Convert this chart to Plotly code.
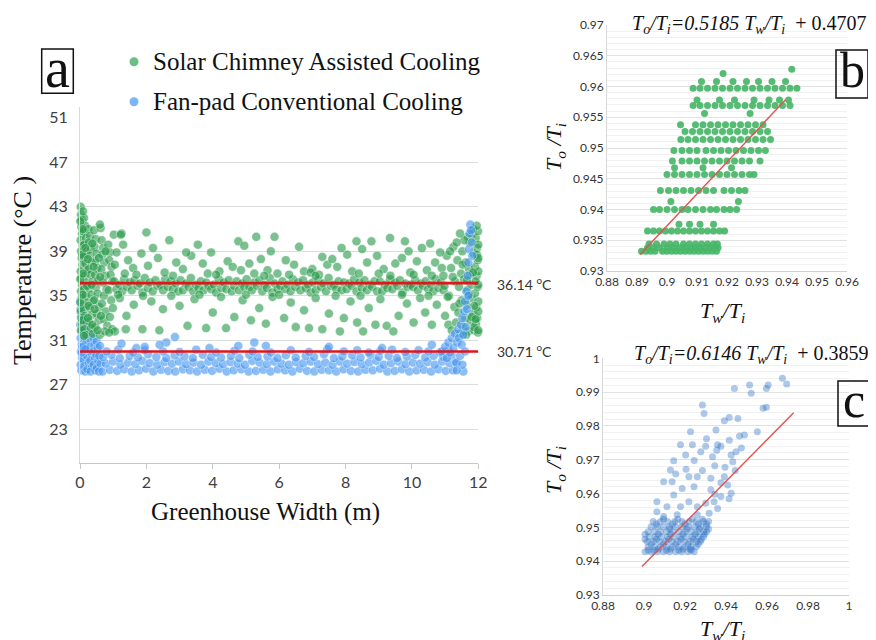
import plotly.graph_objects as go

# page body has an 8px default margin, so the figure is drawn 8px smaller and offset
OFF = 8
W, H = 876 - OFF, 640 - OFF
SERIF = "Liberation Serif, Times New Roman, serif"
SANS = "Lato, Noto Sans, sans-serif"

# ---------------- Panel a : temperature vs greenhouse width ----------------
SOLAR_LEFT = [
    (0.02,43.0),(0.03,42.3),(0.05,41.8),(0.04,41.2),(0.06,40.6),(0.02,40.0),(0.08,39.5),(0.03,39.0),(0.05,38.4),(0.07,37.8),
    (0.02,37.2),(0.04,36.6),(0.06,36.0),(0.03,35.4),(0.05,34.8),(0.08,34.2),(0.02,33.6),(0.04,33.0),(0.06,32.4),(0.03,31.9),
    (0.12,42.0),(0.15,41.3),(0.10,40.8),(0.18,40.2),(0.13,39.6),(0.20,39.0),(0.11,38.5),(0.16,37.9),(0.22,37.3),(0.14,36.8),
    (0.19,36.2),(0.12,35.6),(0.17,35.0),(0.23,34.4),(0.10,33.8),(0.15,33.2),(0.20,32.6),(0.13,32.0),(0.18,31.5),
    (0.25,41.0),(0.30,40.4),(0.27,39.8),(0.33,39.2),(0.29,38.6),(0.35,38.0),(0.26,37.4),(0.32,36.9),(0.38,36.3),(0.28,35.7),
    (0.34,35.1),(0.40,34.5),(0.30,33.9),(0.36,33.3),(0.27,32.7),(0.33,32.1),(0.39,31.6),
    (0.42,40.9),(0.47,40.1),(0.44,39.4),(0.50,38.8),(0.46,38.1),(0.52,37.5),(0.45,36.9),(0.55,36.4),(0.48,35.8),(0.53,35.2),
    (0.43,34.6),(0.58,34.0),(0.50,33.4),(0.56,32.8),(0.46,32.2),(0.60,31.5),
    (0.62,41.1),(0.65,40.0),(0.70,39.3),(0.67,38.7),(0.73,38.0),(0.64,37.4),(0.76,36.8),(0.69,36.2),(0.80,35.6),(0.72,35.0),
    (0.66,34.3),(0.78,33.6),(0.71,32.9),(0.82,32.3),(0.75,31.8),
    (0.85,39.6),(0.90,38.9),(0.88,38.2),(0.95,37.6),(0.92,36.9),(0.98,36.3),(0.86,35.5),(0.94,34.6),(0.99,33.9),(0.90,33.1),
    (0.97,32.0),(1.02,40.5),(1.25,40.6),(1.05,37.8),(0.60,41.4),(0.09,42.6),(0.07,38.7),(0.01,41.7),(0.01,36.5),(0.01,34.4),
    (0.08,41.0),(0.16,39.3),(0.24,38.3),(0.09,37.0),(0.21,35.9),(0.08,35.1),(0.26,34.1),(0.07,32.8),(0.24,33.0),(0.12,31.4),
    (0.37,39.7),(0.41,37.6),(0.35,36.0),(0.44,33.8),(0.37,32.4),(0.57,38.4),(0.61,36.7),(0.63,33.2),(0.53,31.9),(0.77,39.0),
]
SOLAR_BAND_X = [
    1.03,1.1,1.18,1.27,1.33,1.41,1.5,1.56,1.64,1.73,1.8,1.88,1.95,2.04,2.1,2.19,2.27,2.33,2.42,2.5,
    2.57,2.64,2.73,2.8,2.88,2.96,3.03,3.1,3.18,3.27,3.34,3.41,3.49,3.57,3.64,3.72,3.8,3.87,3.95,4.03,
    4.1,4.18,4.26,4.33,4.41,4.48,4.57,4.64,4.72,4.79,4.87,4.95,5.02,5.1,5.18,5.25,5.33,5.4,5.49,5.56,
    5.63,5.72,5.8,5.87,5.95,6.03,6.1,6.18,6.25,6.34,6.41,6.48,6.57,6.64,6.72,6.8,6.87,6.95,7.02,7.1,
    7.18,7.26,7.33,7.41,7.49,7.56,7.64,7.72,7.79,7.88,7.95,8.03,8.1,8.18,8.26,8.33,8.41,8.49,8.57,8.64,
    8.72,8.8,8.87,8.95,9.03,9.1,9.18,9.26,9.34,9.41,9.49,9.56,9.64,9.72,9.8,9.87,9.95,10.03,10.1,10.18,
    10.26,10.33,10.41,10.49,10.57,10.64,10.72,10.8,10.87,10.95,
]
SOLAR_BAND_Y = [
    36.3,35.6,36.0,35.4,36.5,35.8,36.2,35.5,36.4,35.9,36.1,35.3,36.6,
    35.7,36.2,35.4,36.4,35.9,36.0,35.5,36.5,35.8,36.3,35.6,36.1,35.4,
    36.4,35.5,36.1,35.8,36.6,35.4,36.0,35.7,36.3,35.5,36.2,35.9,35.6,
    36.0,35.3,36.5,35.7,36.2,35.6,36.4,35.4,35.9,36.3,35.5,36.1,35.8,
    36.5,35.8,35.5,36.2,35.9,36.4,35.4,36.0,35.7,36.6,35.3,36.1,35.6,
    35.9,36.3,35.6,36.0,35.4,36.5,35.8,36.2,35.5,36.4,35.7,36.0,35.3,
    36.2,35.5,36.4,35.8,36.1,35.4,36.6,35.9,36.0,35.6,36.3,35.5,36.2,
    35.6,36.1,35.9,36.5,35.4,36.2,35.7,36.4,35.5,36.0,35.8,36.3,35.4,
    36.3,35.4,36.0,35.7,36.5,35.6,36.2,35.9,36.4,35.3,36.1,35.8,36.0,
    35.8,36.4,35.5,36.1,35.9,36.3,35.6,36.0,35.4,36.5,35.7,36.2,35.5,
]
SOLAR_MID = [
    (1.23,40.5),(2.0,40.7),(2.69,40.0),(4.77,39.9),(5.31,40.3),(5.86,40.3),(9.34,40.2),(9.79,39.9),(10.55,39.7),(7.88,39.3),
    (8.33,39.9),(8.78,39.9),(1.1,38.9),(1.45,38.2),(1.6,37.5),(1.85,38.8),(2.2,39.3),(2.35,38.4),(2.55,37.1),(2.9,38.0),
    (3.1,37.4),(3.35,38.6),(3.55,39.6),(3.7,37.9),(3.95,38.9),(4.2,37.2),(4.45,38.1),(4.6,37.6),(4.95,39.5),(5.1,37.9),
    (5.45,38.3),(5.65,37.3),(5.95,37.0),(6.2,38.2),(6.45,37.8),(6.6,39.4),(6.75,37.2),(7.0,37.4),(7.2,36.9),(7.45,37.8),
    (7.6,38.3),(7.75,37.6),(8.05,38.7),(8.2,37.2),(8.5,39.2),(8.65,38.0),(8.95,38.6),(9.15,37.4),(9.5,37.9),(9.7,38.4),
    (9.95,37.1),(10.15,38.1),(10.3,39.3),(10.45,37.3),(10.7,38.0),(10.9,37.5),(3.85,37.0),(6.95,37.1),(5.25,37.0),(2.05,37.7),
    (1.35,37.0),(9.0,37.0),(1.7,36.9),(2.8,36.8),(4.1,36.9),(4.85,37.3),(5.55,36.8),(6.3,36.9),(7.1,36.8),(8.4,37.0),
    (9.35,36.8),(10.05,36.9),(10.6,36.8),(3.2,38.9),(5.75,39.0),(7.3,38.5),(9.9,39.0),(1.3,39.6),
    (1.2,34.8),(1.4,33.2),(1.62,34.2),(1.88,32.0),(2.39,31.9),(2.15,34.5),(2.5,33.8),(2.75,35.0),(3.0,34.1),(3.24,32.3),
    (3.45,34.7),(3.8,32.1),(4.0,33.5),(4.4,32.1),(4.25,34.9),(4.65,33.1),(4.9,34.6),(5.15,32.8),(5.4,33.9),(5.6,32.5),
    (5.8,34.9),(6.15,33.0),(6.35,34.4),(6.5,32.2),(6.75,33.7),(6.9,32.1),(7.1,34.8),(7.3,32.0),(7.5,33.4),(7.83,31.8),
    (7.95,33.0),(8.15,34.5),(8.35,32.6),(8.53,31.8),(8.7,33.9),(8.9,32.4),(9.05,34.7),(9.24,32.3),(9.44,31.8),(9.6,33.2),
    (9.85,34.3),(10.05,32.6),(10.25,34.8),(10.4,33.5),(10.6,32.4),(10.75,34.2),(1.05,31.8),(1.38,32.0),(0.88,31.7),(6.0,35.1),
    (3.6,35.1),(8.45,35.0),(1.15,35.1),(1.9,35.0),(5.0,35.1),(7.7,35.0),(9.7,35.1),(10.5,35.0),
]
SOLAR_RIGHT = [
    (10.95,36.8),(11.0,33.2),(11.05,38.6),(11.1,32.4),(11.12,35.0),(11.18,37.5),(11.2,31.9),(11.25,39.4),(11.28,34.0),(11.3,36.3),
    (11.33,32.6),(11.37,38.2),(11.4,33.5),(11.42,35.8),(11.45,31.6),(11.48,37.0),(11.5,34.6),(11.52,39.0),(11.55,32.2),(11.57,36.5),
    (11.6,33.0),(11.62,38.0),(11.65,34.2),(11.67,35.5),(11.7,31.8),(11.72,37.4),(11.74,39.8),(11.76,32.8),(11.78,36.0),(11.8,34.8),
    (11.82,40.6),(11.84,33.4),(11.86,38.8),(11.88,31.9),(11.9,35.2),(11.9,37.6),(11.92,40.2),(11.93,32.5),(11.94,34.0),(11.95,36.8),
    (11.96,39.3),(11.97,33.0),(11.98,35.8),(11.98,38.2),(11.99,40.8),(11.99,31.7),(12.0,34.5),(12.0,37.2),(12.0,39.6),(12.0,36.0),
    (12.0,33.6),(11.85,41.0),(11.68,40.3),(11.58,40.0),(11.35,39.8),(11.15,39.0),(10.85,38.9),(11.45,40.6),(11.75,36.9),(11.63,31.5),
    (11.87,32.2),(11.95,41.3),(11.53,37.8),(11.43,34.3),(11.23,36.7),(11.08,34.9),(10.98,35.9),
    (11.88,34.1),(11.92,36.3),(11.84,37.1),(11.96,38.7),(11.8,33.1),(11.72,35.1),(11.66,36.4),(11.92,32.9),(12.0,38.4),(12.0,31.9),
]
FAN_LEFT = [
    (0.01,34.5),(0.02,33.8),(0.03,33.1),(0.01,32.4),(0.04,31.8),(0.02,31.2),(0.05,30.6),(0.03,30.0),(0.06,29.4),(0.02,28.8),
    (0.04,28.3),(0.1,33.0),(0.12,32.3),(0.09,31.7),(0.14,31.1),(0.11,30.5),(0.15,29.9),(0.1,29.3),(0.13,28.7),(0.16,28.2),
    (0.2,32.0),(0.23,31.4),(0.19,30.8),(0.25,30.2),(0.21,29.6),(0.26,29.0),(0.22,28.4),(0.3,31.6),(0.33,31.0),(0.29,30.4),
    (0.35,29.8),(0.31,29.2),(0.36,28.6),(0.32,28.2),(0.4,31.2),(0.43,30.6),(0.39,30.0),(0.45,29.4),(0.41,28.8),(0.46,28.3),
    (0.5,30.9),(0.53,30.3),(0.49,29.7),(0.55,29.1),(0.51,28.5),(0.6,30.5),(0.58,29.6),(0.62,28.9),(0.57,28.2),(0.05,29.9),
    (0.07,30.4),(0.16,30.2),
]
FAN_ROW1_X = [0.68,0.9,1.12,1.33,1.56,1.78,1.99,2.21,2.44,2.66,2.87,3.1,3.31,3.53,3.76,3.98,4.2,4.42,4.63,4.86,5.08,5.3,5.52,5.74,
              5.96,6.18,6.4,6.62,6.84,7.06,7.28,7.5,7.72,7.94,8.16,8.38,8.6,8.82,9.04,9.26,9.48,9.7,9.92,10.14,10.36,10.58,10.8,11.02,11.24]
FAN_ROW1_Y = [28.2,28.35,28.25,28.4,28.2,28.3,28.45,28.2,28.35,28.25,28.2,28.4,28.3,28.2,28.35,28.25,28.45,28.2,28.3,28.4,28.2,28.25,
              28.35,28.2,28.4,28.3,28.2,28.45,28.25,28.2,28.35,28.3,28.2,28.4,28.25,28.2,28.35,28.3,28.45,28.2,28.25,28.4,28.2,28.3,28.35,
              28.2,28.4,28.25,28.3]
FAN_ROW2_X = [0.78,1.0,1.22,1.45,1.67,1.88,2.1,2.33,2.55,2.77,2.98,3.2,3.42,3.65,3.87,4.09,4.31,4.53,4.75,4.97,5.19,5.41,5.63,5.85,
              6.07,6.29,6.51,6.73,6.95,7.17,7.39,7.61,7.83,8.05,8.27,8.49,8.71,8.93,9.15,9.37,9.59,9.81,10.03,10.25,10.47,10.69,10.91,11.13,11.35]
FAN_ROW2_Y = [28.9,29.1,28.8,29.0,28.85,29.15,28.95,28.8,29.05,28.9,29.1,28.85,29.0,28.8,29.1,28.95,28.85,29.05,28.9,28.8,29.15,29.0,
              28.85,29.1,28.9,28.8,29.05,28.95,29.1,28.85,29.0,28.8,29.1,28.9,29.05,28.85,29.0,29.15,28.8,28.95,29.1,28.85,29.0,28.9,29.05,
              28.8,29.1,28.95,29.0]
FAN_ROW3_X = [0.7,0.95,1.2,1.5,1.75,2.05,2.3,2.6,2.85,3.15,3.4,3.7,3.95,4.25,4.55,4.8,5.1,5.35,5.65,5.95,6.2,6.5,6.8,7.05,7.35,7.65,
              7.9,8.2,8.45,8.75,9.0,9.3,9.55,9.85,10.1,10.4,10.65,10.95,11.2]
FAN_ROW3_Y = [29.5,29.7,29.4,29.6,29.45,29.75,29.5,29.4,29.65,29.55,29.4,29.7,29.5,29.45,29.6,29.4,29.7,29.5,29.55,29.4,29.65,29.45,
              29.6,29.5,29.75,29.4,29.55,29.65,29.45,29.7,29.5,29.6,29.4,29.55,29.7,29.45,29.6,29.5,29.65]
FAN_ROW4_X = [0.8,1.15,1.6,1.95,2.5,3.0,3.5,4.1,4.65,5.2,5.75,6.35,6.9,7.45,7.95,8.35,8.7,9.05,9.4,9.8,10.2,10.5,10.85,11.1]
FAN_ROW4_Y = [30.0,30.15,29.9,30.1,30.0,29.95,30.15,29.9,30.05,30.0,29.9,30.1,29.95,30.2,30.0,30.1,29.9,30.05,30.15,29.95,30.1,30.0,29.9,30.15]
FAN_OUTLIERS = [(1.25,30.7),(2.86,31.3),(2.6,30.8),(2.4,30.6),(4.77,30.5),(5.25,30.8),(5.6,30.5),(10.6,30.6),(1.7,30.3),(3.9,30.3),
                (7.5,30.4),(9.1,30.3),(1.95,30.4)]
FAN_RIGHT = [
    (10.9,30.0),(11.0,30.4),(11.05,29.4),(11.1,30.8),(11.15,29.9),(11.2,31.2),(11.25,30.3),(11.3,31.6),(11.33,29.0),(11.36,30.8),
    (11.4,32.0),(11.42,31.2),(11.45,29.6),(11.48,32.4),(11.5,30.6),(11.52,33.0),(11.55,31.5),(11.55,28.2),(11.58,33.6),(11.6,34.5),
    (11.62,32.2),(11.64,35.4),(11.66,33.8),(11.68,36.8),(11.7,38.0),(11.72,39.2),(11.74,40.6),(11.76,41.4),(11.78,40.9),(11.8,39.8),
    (11.82,38.6),(11.7,35.0),(11.52,28.8),(11.35,28.3),(11.6,30.0),
]
MEAN_LINE_Y = [36.14, 30.0]
MEAN_LINE_LABELS = ["36.14", "30.71"]

# ---------------- Panel b : solar chimney ratios (rows of points) ----------------
B_ROW_Y = [0.9332, 0.9338, 0.9344, 0.9365, 0.9376, 0.9400, 0.9413, 0.9431, 0.9457, 0.9468, 0.9479,
           0.9496, 0.9514, 0.9527, 0.9538, 0.9556, 0.9569, 0.9578, 0.9597, 0.9608]
B_ROW_X = [
    [0.8915,0.893,0.8945,0.896,0.8985,0.9,0.9015,0.903,0.9045,0.906,0.9075,0.909,0.9105,0.912,0.9135,0.915,0.9165],
    [0.8935,0.8955,0.8975,0.9,0.902,0.904,0.906,0.908,0.9095,0.911,0.913,0.9145,0.916,0.917],
    [0.894,0.8965,0.899,0.901,0.903,0.9055,0.9075,0.9095,0.9115,0.9135,0.9155,0.9168],
    [0.8935,0.8955,0.8975,0.8995,0.9015,0.9035,0.9055,0.9075,0.9095,0.9115,0.9135,0.9155,0.9175,0.9192],
    [0.904,0.9075,0.911,0.9155],
    [0.8955,0.8975,0.9,0.9025,0.905,0.907,0.9095,0.912,0.9145,0.9165,0.919,0.921,0.9232],
    [0.9013,0.9238],
    [0.8978,0.9005,0.903,0.9055,0.908,0.9105,0.913,0.9155,0.919,0.9215,0.924,0.926],
    [0.9,0.9025,0.905,0.9075,0.91,0.9125,0.915,0.9175,0.92,0.9225,0.925,0.9275,0.929],
    [0.9025,0.912,0.9215],
    [0.9018,0.905,0.9075,0.91,0.9125,0.915,0.9175,0.92,0.9225,0.925,0.9275,0.931],
    [0.9023,0.905,0.9075,0.91,0.913,0.9155,0.918,0.9205,0.923,0.9255,0.928,0.9305,0.9328],
    [0.9046,0.907,0.9095,0.912,0.9145,0.917,0.9195,0.922,0.9245,0.927,0.9295,0.932,0.9345],
    [0.906,0.9085,0.911,0.9135,0.916,0.9185,0.921,0.9235,0.926,0.9285,0.931,0.9335],
    [0.9045,0.9095,0.912,0.9145,0.917,0.9195,0.922,0.9245,0.927,0.9295,0.932],
    [0.9125,0.9277],
    [0.9087,0.911,0.9135,0.916,0.9185,0.921,0.9235,0.926,0.9285,0.931,0.9335,0.936,0.9385,0.941],
    [0.91,0.9175,0.9225,0.929,0.934,0.9375,0.9405],
    [0.9087,0.911,0.9135,0.916,0.9185,0.921,0.9235,0.926,0.9285,0.931,0.9335,0.936,0.9385,0.941,0.9433],
    [0.9115,0.9165,0.922,0.9265,0.9305,0.935,0.9395],
]
B_OUTLIERS = [(0.9187, 0.9621), (0.9416, 0.9628)]
B_FIT = (0.5185, 0.4707)
B_FIT_X = [0.891, 0.9395]

# ---------------- Panel c : fan-pad ratios ----------------
C_ROW_Y = [0.9428, 0.9432, 0.9436, 0.9443, 0.9451, 0.9458, 0.9465, 0.9472, 0.9480, 0.9487, 0.9495, 0.9502, 0.9510, 0.9517, 0.9524]
C_ROW_X = [
    [0.9005,0.9035,0.9065,0.9095,0.9125,0.9155,0.9185,0.9215,0.9245],
    [0.902,0.905,0.911,0.917,0.923],
    [0.907,0.913,0.919,0.9225],
    [0.902,0.905,0.908,0.911,0.914,0.917,0.92,0.923,0.9255],
    [0.9035,0.9095,0.9155,0.9215,0.9265],
    [0.9015,0.9045,0.9075,0.9105,0.9135,0.9165,0.9195,0.9225,0.9255,0.9275],
    [0.9005,0.906,0.912,0.918,0.924,0.928],
    [0.9025,0.9055,0.9085,0.9115,0.9145,0.9175,0.9205,0.9235,0.9265,0.929],
    [0.9005,0.907,0.913,0.919,0.925,0.9295],
    [0.902,0.905,0.908,0.911,0.914,0.917,0.92,0.923,0.926,0.929,0.9305],
    [0.9125,0.921,0.927,0.9315],
    [0.9035,0.9065,0.9095,0.9125,0.9155,0.9185,0.9215,0.9245,0.9275,0.9305],
    [0.906,0.914,0.92,0.9265,0.9305],
    [0.9045,0.908,0.9115,0.915,0.9185,0.922,0.9255,0.929,0.9315],
    [0.9095,0.9165,0.9235,0.9285],
]
C_SCATTER = [
    (0.9285,0.9862),(0.9293,0.9837),(0.9441,0.9911),(0.9515,0.9921),(0.9523,0.9897),(0.9597,0.9911),(0.9606,0.9921),(0.9675,0.9941),
    (0.9696,0.9924),(0.9581,0.9852),(0.9597,0.9855),(0.9553,0.9783),(0.949,0.9773),(0.9466,0.977),(0.9458,0.9822),(0.9416,0.9825),
    (0.9392,0.9815),(0.9227,0.9783),(0.9351,0.9788),(0.9178,0.9744),(0.9236,0.9744),(0.9301,0.974),(0.9359,0.9744),(0.9375,0.974),
    (0.9416,0.9758),(0.9449,0.9724),(0.9145,0.9697),(0.9203,0.9714),(0.9277,0.9724),(0.9334,0.9709),(0.9425,0.9714),(0.9433,0.9694),
    (0.9129,0.967),(0.9096,0.9635),(0.9137,0.9635),(0.9219,0.965),(0.926,0.965),(0.9326,0.9645),(0.9392,0.965),(0.9408,0.9625),
    (0.9375,0.9591),(0.9425,0.9601),(0.9326,0.9611),(0.9244,0.962),(0.9186,0.9615),(0.9145,0.9596),(0.9063,0.9576),(0.9063,0.9546),
    (0.9112,0.9561),(0.9178,0.9561),(0.9219,0.9576),(0.926,0.9561),(0.9301,0.9571),(0.9342,0.9576),(0.9359,0.9556),(0.9318,0.9542),
    (0.926,0.9537),(0.9162,0.9537),(0.9096,0.9532),(0.9285,0.9668),(0.9345,0.9682),(0.9395,0.9678),(0.9445,0.9668),(0.9205,0.9672),
    (0.9155,0.9658),(0.9245,0.9698),(0.9305,0.9762),(0.9355,0.9728),(0.9475,0.9735),(0.9375,0.9632),(0.9415,0.9585),(0.9345,0.9598),
]
C_FIT = (0.6146, 0.3859)
C_FIT_X = [0.899, 0.973]


def xs(pairs):
    return [p[0] for p in pairs]


def ys(pairs):
    return [p[1] for p in pairs]


GREEN = "rgba(40,155,75,0.62)"
BLUE = "rgba(70,150,240,0.62)"
HALO = dict(color="rgba(255,255,255,0.5)", width=0.8)
MS_A = 9

fig = go.Figure()

# fan-pad (blue) first, solar (green) on top
fan_x = xs(FAN_LEFT) + FAN_ROW1_X + FAN_ROW2_X + FAN_ROW3_X + FAN_ROW4_X + xs(FAN_OUTLIERS)
fan_y = ys(FAN_LEFT) + FAN_ROW1_Y[:len(FAN_ROW1_X)] + FAN_ROW2_Y[:len(FAN_ROW2_X)] + FAN_ROW3_Y[:len(FAN_ROW3_X)] \
    + FAN_ROW4_Y[:len(FAN_ROW4_X)] + ys(FAN_OUTLIERS)
fig.add_trace(go.Scatter(x=fan_x, y=fan_y, mode="markers", name="Fan-pad Conventional Cooling",
                         marker=dict(size=MS_A, color=BLUE, line=HALO), cliponaxis=False, xaxis="x", yaxis="y"))

band_n = min(len(SOLAR_BAND_X), len(SOLAR_BAND_Y))
sol_x = xs(SOLAR_LEFT) + SOLAR_BAND_X[:band_n] + xs(SOLAR_MID) + xs(SOLAR_RIGHT)
sol_y = ys(SOLAR_LEFT) + SOLAR_BAND_Y[:band_n] + ys(SOLAR_MID) + ys(SOLAR_RIGHT)
fig.add_trace(go.Scatter(x=sol_x, y=sol_y, mode="markers", name="Solar Chimney Assisted Cooling",
                         marker=dict(size=MS_A, color=GREEN, line=HALO), cliponaxis=False, xaxis="x", yaxis="y"))

fig.add_trace(go.Scatter(x=xs(FAN_RIGHT), y=ys(FAN_RIGHT), mode="markers", showlegend=False,
                         marker=dict(size=MS_A, color=BLUE, line=HALO), cliponaxis=False, xaxis="x", yaxis="y"))

for v in MEAN_LINE_Y:
    fig.add_trace(go.Scatter(x=[0, 12], y=[v, v], mode="lines", line=dict(color="#e3151c", width=2.6),
                             showlegend=False, xaxis="x", yaxis="y"))

# panel b
bx, by = [], []
for yv, row in zip(B_ROW_Y, B_ROW_X):
    bx += row
    by += [yv] * len(row)
bx += xs(B_OUTLIERS)
by += ys(B_OUTLIERS)
fig.add_trace(go.Scatter(x=bx, y=by, mode="markers", showlegend=False,
                         marker=dict(size=7, color="rgba(72,182,104,0.92)"), xaxis="x2", yaxis="y2"))
fig.add_trace(go.Scatter(x=B_FIT_X, y=[B_FIT[0] * v + B_FIT[1] for v in B_FIT_X], mode="lines",
                         line=dict(color="#e0534d", width=1.4), showlegend=False, xaxis="x2", yaxis="y2"))

# panel c
cx, cy = [], []
for yv, row in zip(C_ROW_Y, C_ROW_X):
    cx += row
    cy += [yv] * len(row)
cx += xs(C_SCATTER)
cy += ys(C_SCATTER)
fig.add_trace(go.Scatter(x=cx, y=cy, mode="markers", showlegend=False,
                         marker=dict(size=7, color="rgba(40,110,195,0.38)"), xaxis="x3", yaxis="y3"))
fig.add_trace(go.Scatter(x=C_FIT_X, y=[C_FIT[0] * v + C_FIT[1] for v in C_FIT_X], mode="lines",
                         line=dict(color="#e0534d", width=1.4), showlegend=False, xaxis="x3", yaxis="y3"))


def px_x(p):
    return (p - OFF) / W


def px_y(p):
    return 1 - (p - OFF) / H


tickfont_a = dict(family=SANS, size=16, color="#404040")
tickfont_bc = dict(family=SANS, size=12, color="#333333")

fig.update_layout(
    width=W, height=H, margin=dict(l=0, r=0, t=0, b=0, autoexpand=False),
    paper_bgcolor="white", plot_bgcolor="white", showlegend=False,
    xaxis=dict(domain=[px_x(80), px_x(478.3)], range=[0, 12], tick0=0, dtick=2, showgrid=False, zeroline=False,
               showline=True, linecolor="#c8c8c8", ticks="outside", ticklen=5, tickcolor="#c8c8c8",
               tickfont=tickfont_a, anchor="y", automargin=False),
    yaxis=dict(domain=[px_y(462.7), px_y(106.7)], range=[20, 52], tickvals=[23, 27, 31, 35, 39, 43, 47, 51],
               showgrid=False, zeroline=False, showline=True, linecolor="#d9d9d9", ticks="",
               minor=dict(tickvals=[23, 27, 31, 35, 39, 43, 47], showgrid=True, gridcolor="#dcdcdc", ticks=""),
               tickfont=tickfont_a, ticklabelstandoff=8, anchor="x", automargin=False),
    xaxis2=dict(domain=[px_x(607), px_x(847)], range=[0.88, 0.96], dtick=0.01, tick0=0.88, showgrid=False,
                zeroline=False, showline=True, linecolor="#d0d0d0", ticks="", tickfont=tickfont_bc, anchor="y2",
                automargin=False),
    yaxis2=dict(domain=[px_y(271), px_y(25)], range=[0.93, 0.97], dtick=0.005, tick0=0.93, showgrid=True,
                gridcolor="#e2e2e2", zeroline=False, showline=True, linecolor="#d9d9d9", ticks="",
                minor=dict(dtick=0.001, showgrid=True, gridcolor="#f1f1f1"),
                tickfont=tickfont_bc, anchor="x2", automargin=False),
    xaxis3=dict(domain=[px_x(603), px_x(849)], range=[0.88, 1.0], dtick=0.02, tick0=0.88, showgrid=False,
                zeroline=False, showline=True, linecolor="#d0d0d0", ticks="", tickfont=tickfont_bc, anchor="y3",
                automargin=False),
    yaxis3=dict(domain=[px_y(595), px_y(358.3)], range=[0.93, 1.0], dtick=0.01, tick0=0.93, showgrid=True,
                gridcolor="#e2e2e2", zeroline=False, showline=True, linecolor="#d9d9d9", ticks="",
                minor=dict(dtick=0.002, showgrid=True, gridcolor="#f1f1f1"),
                tickfont=tickfont_bc, anchor="x3", automargin=False),
)


def ann(text, x, y, size, family=SERIF, xanchor="center", yanchor="middle", angle=0, color="#111111"):
    return dict(text=text, x=px_x(x), y=px_y(y), xref="paper", yref="paper", showarrow=False,
                font=dict(family=family, size=size, color=color), xanchor=xanchor, yanchor=yanchor,
                textangle=angle)


annotations = [
    ann("Solar Chimney Assisted Cooling", 151, 61.7, 25, xanchor="left"),
    ann("Fan-pad Conventional Cooling", 151, 101.7, 25, xanchor="left"),
    ann("a", 57.5, 68, 56),
    ann("Temperature (°C )", 22, 271, 26, angle=-90),
    ann("Greenhouse Width (m)", 265, 512, 25),
    ann(MEAN_LINE_LABELS[0] + " <sup>o</sup>C", 495, 283, 14, family=SANS, xanchor="left", color="#333333"),
    ann(MEAN_LINE_LABELS[1] + " <sup>o</sup>C", 495, 350.5, 14, family=SANS, xanchor="left", color="#333333"),
    ann("<i>T<sub>o</sub>/T<sub>i</sub>=%.4f T<sub>w</sub>/T<sub>i</sub></i>  + %.4f" % B_FIT, 749, 24, 20),
    ann("<i>T<sub>o</sub>/T<sub>i</sub>=%.4f T<sub>w</sub>/T<sub>i</sub></i>  + %.4f" % C_FIT, 751, 354, 20),
    ann("b", 852, 70, 50),
    ann("c", 854, 400, 50),
    ann("<i>T<sub>o</sub> /T<sub>i</sub></i>", 555, 147, 22, angle=-90),
    ann("<i>T<sub>o</sub> /T<sub>i</sub></i>", 555, 470, 22, angle=-90),
    ann("<i>T<sub>w</sub>/T<sub>i</sub></i>", 722, 312, 22),
    ann("<i>T<sub>w</sub>/T<sub>i</sub></i>", 722, 630, 22),
]

shapes = [
    dict(type="rect", xref="paper", yref="paper", x0=px_x(41.7), x1=px_x(73.3), y0=px_y(93.3), y1=px_y(49),
         line=dict(color="#111111", width=1.5)),
    dict(type="rect", xref="paper", yref="paper", x0=px_x(836), x1=px_x(868), y0=px_y(98), y1=px_y(50),
         line=dict(color="#111111", width=1.5)),
    dict(type="rect", xref="paper", yref="paper", x0=px_x(838), x1=px_x(870), y0=px_y(426), y1=px_y(381),
         line=dict(color="#111111", width=1.5)),
    dict(type="circle", xref="paper", yref="paper", x0=px_x(129.5), x1=px_x(138.5), y0=px_y(66.2), y1=px_y(57.2),
         fillcolor="rgba(80,180,110,0.85)", line=dict(width=0)),
    dict(type="circle", xref="paper", yref="paper", x0=px_x(129.5), x1=px_x(138.5), y0=px_y(106.2), y1=px_y(97.2),
         fillcolor="rgba(100,170,245,0.85)", line=dict(width=0)),
]

fig.update_layout(annotations=annotations, shapes=shapes)
fig.write_html("out.html")
